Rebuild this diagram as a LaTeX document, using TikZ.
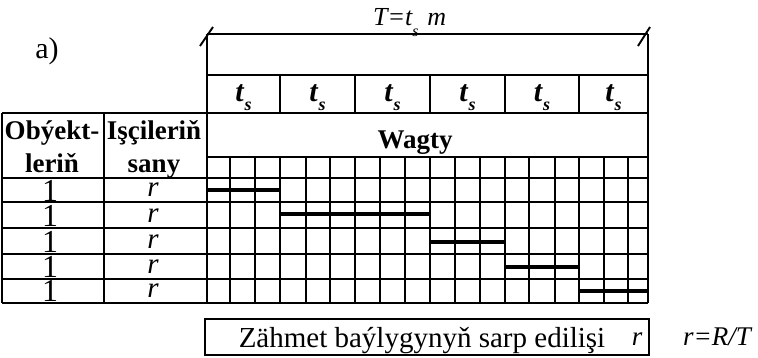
\documentclass[tikz,border=0pt]{standalone}
\usepackage{fontspec}
\setmainfont{Liberation Serif}
\newcommand{\tsub}{\textbf{\textit{t}}\raisebox{-0.3em}{\fontsize{18}{18}\selectfont\textbf{\textit{s}}}}
\begin{document}
\begin{tikzpicture}[x=1pt,y=-1pt,
  rule/.style={line width=1.9pt},
  bar/.style={line width=4.8pt},
  hdr/.style={font=\fontsize{27}{29}\selectfont\bfseries, inner sep=0pt, anchor=base},
  ts/.style={font=\fontsize{30}{32}\selectfont, inner sep=0pt, anchor=base},
  num/.style={font=\fontsize{32}{33}\selectfont, inner sep=0pt, anchor=base, text height=20pt, text depth=0pt},
  rr/.style={font=\fontsize{29}{30}\selectfont\itshape, inner sep=0pt, anchor=base, text height=13pt, text depth=0pt},
  plain/.style={inner sep=0pt, anchor=base}]
\useasboundingbox (0,0) rectangle (758,357);

% top dimension line with ticks
\draw[rule] (207,34) -- (648,34);
\draw[rule] (200,46) -- (213,27);
\draw[rule] (638,46) -- (650,27);
\node[plain, anchor=base west, font=\fontsize{26}{28}\selectfont\itshape] (T) at (373,25)
  {T=t\raisebox{-0.45em}{\fontsize{16}{16}\selectfont s}\,\,m};
\node[plain, font=\fontsize{30}{32}\selectfont] (a) at (47,58) {a)};

% outer verticals of time area
\draw[rule] (207,34) -- (207,303);
\draw[rule] (648,34) -- (648,303);

% horizontal rules
\draw[rule] (207,75) -- (648,75);
\draw[rule] (2,113) -- (648,113);
\draw[rule] (207,157) -- (648,157);
\foreach \yy in {178,202,228,254,279,303}
  \draw[rule] (2,\yy) -- (648,\yy);

% left table verticals
\draw[rule] (2,113) -- (2,303);
\draw[rule] (104,113) -- (104,303);

% t_s dividers
\foreach \xx in {280,355,430,505,579}
  \draw[rule] (\xx,75) -- (\xx,113);

% grid verticals
\foreach \xx in {230,255,280,306,330,355,380,405,430,455,480,505,529,555,579,604,628}
  \draw[rule] (\xx,157) -- (\xx,303);

% t_s labels
\foreach \cx/\nm in {243.5/t1,317.5/t2,392.5/t3,467.5/t4,542/t5,613.5/t6}
  \node[ts] (\nm) at (\cx,101) {\tsub};

% headers
\node[hdr] (h1) at (52,139) {Obýekt-};
\node[hdr] (h2) at (52,172) {leriň};
\node[hdr] (h3) at (154,139) {Işçileriň};
\node[hdr] (h4) at (154,172) {sany};
\node[hdr] (w) at (415,148) {Wagty};

% rows
\foreach \yb/\i in {201/1,226.5/2,252.5/3,277.5/4,301.5/5} {
  \node[num] (one\i) at (50,\yb) {1};
  \node[rr] (r\i) at (153,\yb-4.5) {r};
}

% bars
\draw[bar] (207,190) -- (280,190);
\draw[bar] (280,214) -- (430,214);
\draw[bar] (430,242) -- (505,242);
\draw[bar] (505,267) -- (579,267);
\draw[bar] (579,291) -- (648,291);

% bottom box
\draw[rule] (205,319) rectangle (649,355);
\node[plain, font=\fontsize{29}{31}\selectfont] (z) at (422,347) {Zähmet baýlygynyň sarp edilişi};
\node[plain, font=\fontsize{27}{29}\selectfont\itshape] (rb) at (637,345) {r};
\node[plain, font=\fontsize{27}{29}\selectfont\itshape] (rf) at (717,345) {r=R/T};
\end{tikzpicture}
\end{document}
